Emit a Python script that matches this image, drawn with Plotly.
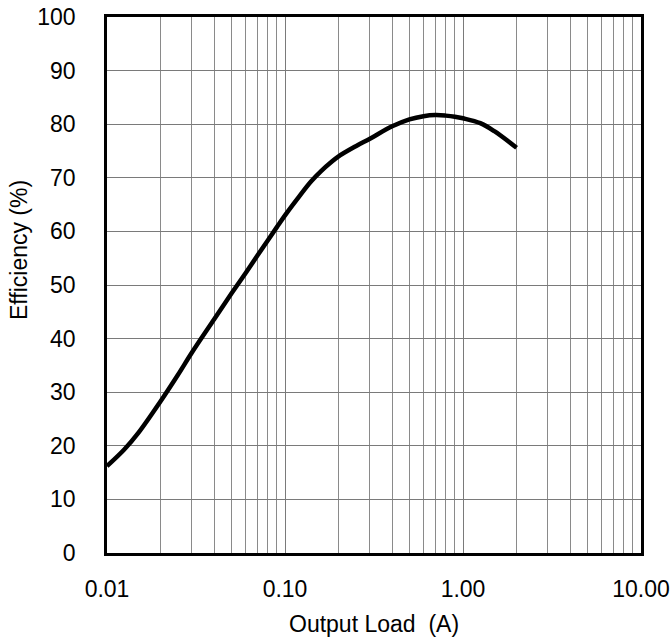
import plotly.graph_objects as go

# Data
load_a = [0.010, 0.0125, 0.015, 0.020, 0.025, 0.030, 0.040, 0.050, 0.060, 0.070,
          0.080, 0.090, 0.100, 0.120, 0.140, 0.160, 0.180, 0.200, 0.250, 0.300,
          0.400, 0.500, 0.600, 0.700, 0.800, 0.900, 1.000, 1.250, 1.500, 2.000]
efficiency = [16.2, 19.3, 22.4, 28.3, 33.2, 37.4, 43.6, 48.4, 52.2, 55.5,
              58.3, 60.8, 63.0, 66.5, 69.3, 71.3, 72.8, 74.0, 75.9, 77.3,
              79.6, 80.9, 81.5, 81.7, 81.6, 81.4, 81.1, 80.2, 78.7, 75.6]

x_tick_vals = [0.01, 0.1, 1, 10]
x_tick_text = ["0.01", "0.10", "1.00", "10.00"]
x_minor_vals = [m * d for d in [0.01, 0.1, 1] for m in range(2, 10)]
y_tick_vals = list(range(0, 101, 10))
x_title = "Output Load  (A)"
y_title = "Efficiency (%)"

fig = go.Figure()
fig.add_trace(go.Scatter(
    x=load_a, y=efficiency, mode="lines",
    line=dict(color="black", width=4.5, shape="spline", smoothing=1.0),
    showlegend=False, hoverinfo="skip",
))

font = dict(family="Liberation Sans, Arial, sans-serif", size=23, color="black")

fig.update_layout(
    width=670, height=639,
    margin=dict(l=107, r=29, t=17, b=86),
    paper_bgcolor="white", plot_bgcolor="white",
    font=font,
    xaxis=dict(
        type="log", range=[-2, 1], automargin=False,
        tickvals=x_tick_vals, ticktext=x_tick_text,
        showgrid=True, gridcolor="#7a7a7a", gridwidth=1,
        minor=dict(tickvals=x_minor_vals, showgrid=True, gridcolor="#8a8a8a", gridwidth=1),
        showline=True, linecolor="black", linewidth=2.5, mirror=True,
        ticks="", ticklabelstandoff=14,
        zeroline=False,
    ),
    yaxis=dict(
        range=[0, 100], automargin=False,
        tickvals=y_tick_vals,
        showgrid=True, gridcolor="#7a7a7a", gridwidth=1,
        showline=True, linecolor="black", linewidth=2.5, mirror=True,
        ticks="", ticklabelstandoff=24,
        zeroline=False,
    ),
    annotations=[
        dict(text=x_title, xref="paper", yref="paper", x=0.5, y=-0.1325,
             xanchor="center", yanchor="middle", showarrow=False, font=dict(size=23)),
        dict(text=y_title, xref="paper", yref="paper", x=-0.165, y=0.565,
             xanchor="center", yanchor="middle", textangle=-90, showarrow=False,
             font=dict(size=23)),
    ],
)

fig.write_html("out.html", config={"displayModeBar": False},
               post_script="document.body.style.margin='0';")
